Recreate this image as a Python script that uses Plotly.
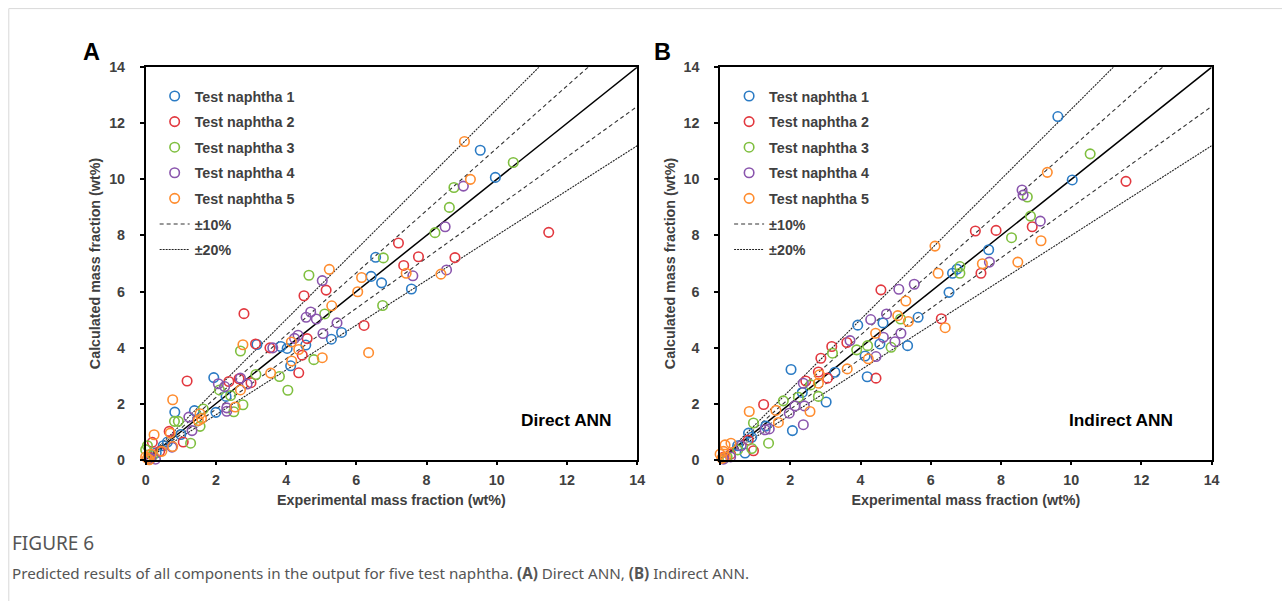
import plotly.graph_objects as go

W, H = 1282, 601
# mapping measured between page pixels and the photographed picture
SX, BX = 0.9916, 3.2
SY, BY = 0.9746, 7.7

series_names = ["Test naphtha 1", "Test naphtha 2", "Test naphtha 3", "Test naphtha 4", "Test naphtha 5"]
colors = ["#2b7bc4", "#e2383f", "#7fbf3f", "#8a55ad", "#ff8c2e"]
tick_vals = [0, 2, 4, 6, 8, 10, 12, 14]
axis_max = 14
band10 = [1 / 0.9, 0.9]
band20 = [1 / 0.8, 0.8]
panel_labels = ["A", "B"]
panel_names = ["Direct ANN", "Indirect ANN"]
x_title = "Experimental mass fraction (wt%)"
y_title = "Calculated mass fraction (wt%)"

# ---------------- Panel A : Direct ANN ----------------
a1_exp = [9.53, 9.96, 6.55, 6.42, 6.72, 7.57, 5.29, 5.58, 3.17, 3.85, 4.03, 4.56, 4.13, 1.94, 2.29, 2.00, 0.83, 1.39, 0.62, 0.30, 0.10, 0.50, 1.00]
a1_cal = [11.04, 10.07, 7.22, 6.54, 6.31, 6.09, 4.30, 4.54, 4.11, 4.04, 3.97, 4.09, 3.35, 2.93, 2.26, 1.69, 1.70, 1.75, 0.63, 0.25, 0.05, 0.50, 0.90]
a2_exp = [11.48, 7.20, 7.77, 7.35, 8.81, 6.22, 4.51, 5.14, 2.80, 3.13, 3.54, 4.60, 4.46, 4.36, 3.00, 2.66, 2.37, 1.18, 0.67, 1.07, 0.19, 0.10, 0.40]
a2_cal = [8.11, 7.73, 7.24, 6.93, 7.21, 4.79, 5.85, 6.05, 5.21, 4.13, 3.99, 4.32, 3.73, 3.10, 2.75, 2.89, 2.79, 2.81, 1.01, 0.63, 0.62, 0.10, 0.30]
a3_exp = [10.47, 8.78, 8.65, 8.24, 6.77, 6.75, 4.65, 5.10, 2.70, 4.79, 3.81, 4.05, 3.14, 2.10, 2.42, 2.77, 2.51, 0.93, 0.82, 1.64, 1.55, 1.28, 0.00, 0.05, 0.20]
a3_cal = [10.60, 9.71, 9.00, 8.10, 7.20, 5.50, 6.58, 5.20, 3.88, 3.57, 2.97, 2.48, 3.04, 2.49, 2.29, 1.96, 1.71, 1.37, 1.37, 1.81, 1.19, 0.59, 0.36, 0.50, 0.15]
a4_exp = [9.05, 8.53, 7.61, 8.57, 5.03, 4.70, 4.57, 4.86, 5.45, 5.05, 3.62, 4.24, 4.34, 2.89, 2.70, 2.07, 2.25, 2.31, 2.31, 1.23, 1.32, 0.75, 0.28, 0.15]
a4_cal = [9.76, 8.31, 6.56, 6.77, 6.39, 5.27, 5.08, 5.02, 4.88, 4.50, 3.99, 4.33, 4.44, 2.70, 2.91, 2.71, 2.61, 1.85, 1.73, 1.52, 1.04, 0.45, 0.02, 0.05]
a5_exp = [9.08, 9.25, 7.42, 8.41, 6.15, 6.04, 6.35, 5.23, 5.30, 2.77, 4.15, 4.36, 4.16, 5.03, 3.56, 2.70, 2.55, 0.77, 1.55, 1.59, 0.70, 0.24, 0.77, 0.46, 0.05, 0.00, 0.10, 0.15, 1.50]
a5_cal = [11.35, 10.00, 6.65, 6.62, 6.50, 5.99, 3.82, 6.79, 5.49, 4.10, 4.20, 3.93, 3.52, 3.64, 3.09, 2.49, 1.88, 2.14, 1.64, 1.47, 0.95, 0.89, 0.47, 0.30, 0.05, 0.10, 0.00, 0.20, 1.40]

# ---------------- Panel B : Indirect ANN ----------------
b1_exp = [9.62, 10.03, 7.65, 6.62, 6.75, 6.52, 5.64, 4.64, 3.92, 4.55, 5.34, 4.13, 3.27, 4.19, 2.02, 2.34, 3.02, 2.06, 0.81, 0.71, 0.50, 0.10, 1.30, 0.90]
b1_cal = [12.24, 9.98, 7.49, 6.65, 6.80, 5.97, 5.08, 4.88, 4.80, 4.13, 4.07, 3.70, 3.12, 2.96, 3.22, 2.40, 2.06, 1.04, 0.95, 0.24, 0.50, 0.05, 1.20, 0.80]
b2_exp = [11.56, 8.89, 7.27, 7.86, 7.43, 6.30, 4.58, 3.61, 3.18, 2.87, 2.80, 3.06, 4.44, 2.44, 1.24, 0.95, 0.30, 0.10, 0.80]
b2_cal = [9.93, 8.31, 8.16, 8.18, 6.65, 5.03, 6.06, 4.18, 4.04, 3.62, 3.13, 2.91, 2.91, 2.81, 1.97, 0.32, 0.20, 0.10, 0.70]
b3_exp = [10.54, 8.75, 8.84, 8.30, 6.83, 6.83, 5.14, 4.87, 4.20, 3.89, 3.20, 2.58, 2.80, 2.23, 1.80, 0.95, 1.38, 0.90, 0.20, 0.50]
b3_cal = [10.91, 9.37, 8.69, 7.92, 6.89, 6.65, 5.02, 4.01, 4.07, 3.92, 3.80, 2.67, 2.26, 2.23, 2.10, 1.31, 0.59, 0.40, 0.10, 0.35]
b4_exp = [8.60, 8.63, 9.12, 7.67, 5.09, 5.53, 4.74, 4.29, 3.70, 4.65, 4.98, 5.15, 4.44, 2.37, 2.40, 2.13, 1.97, 1.28, 1.40, 2.37, 0.30, 0.60, 0.10]
b4_cal = [9.62, 9.44, 8.51, 7.05, 6.08, 6.26, 5.20, 5.00, 4.25, 4.37, 4.21, 4.51, 3.68, 2.73, 1.92, 1.92, 1.66, 1.07, 1.10, 1.25, 0.10, 0.50, 0.02]
b5_exp = [9.32, 9.14, 6.12, 7.47, 8.48, 6.21, 6.41, 5.29, 5.06, 5.36, 4.43, 4.22, 3.62, 2.83, 2.80, 0.83, 1.59, 2.56, 1.66, 0.14, 0.31, 0.05, 0.00, 0.15, 0.10]
b5_cal = [10.25, 7.81, 7.62, 6.99, 7.05, 6.65, 4.71, 5.66, 5.14, 4.93, 4.51, 3.60, 3.24, 3.03, 2.73, 1.72, 1.76, 1.72, 1.33, 0.53, 0.59, 0.05, 0.20, 0.10, 0.30]

panel_data = [
    [(a1_exp, a1_cal), (a2_exp, a2_cal), (a3_exp, a3_cal), (a4_exp, a4_cal), (a5_exp, a5_cal)],
    [(b1_exp, b1_cal), (b2_exp, b2_cal), (b3_exp, b3_cal), (b4_exp, b4_cal), (b5_exp, b5_cal)],
]


# helpers: target picture pixel -> paper fraction
def px(x):
    return ((x - BX) / SX) / W


def py(y):
    return 1 - ((y - BY) / SY) / H


FONT = "Liberation Sans, Arial, sans-serif"
TXT = "#404040"

x_doms = [(145, 637), (720, 1212)]
y_dom = (67, 460)
legend_left = [154, 729]

fig = go.Figure()


def band_xy(ratios):
    up, lo = ratios
    return [axis_max / up, 0, axis_max], [axis_max, 0, axis_max * lo]


for p in range(2):
    xa = "x" if p == 0 else "x2"
    ya = "y" if p == 0 else "y2"
    lg = "legend" if p == 0 else "legend2"
    fig.add_trace(go.Scatter(x=[0, axis_max], y=[0, axis_max], mode="lines",
                             line=dict(color="black", width=1.5), showlegend=False,
                             xaxis=xa, yaxis=ya, hoverinfo="skip"))
    bx, by = band_xy(band10)
    fig.add_trace(go.Scatter(x=bx, y=by, mode="lines", name="±10%",
                             line=dict(color="#333333", width=1.1, dash="4px,3px"),
                             xaxis=xa, yaxis=ya, legend=lg, legendrank=6,
                             legendgroup=f"g10{p}", hoverinfo="skip"))
    bx, by = band_xy(band20)
    fig.add_trace(go.Scatter(x=bx, y=by, mode="lines", name="±20%",
                             line=dict(color="#222222", width=1.1, dash="2px,1px"),
                             xaxis=xa, yaxis=ya, legend=lg, legendrank=7,
                             legendgroup=f"g20{p}", hoverinfo="skip"))
    for i, (xe, yc) in enumerate(panel_data[p]):
        fig.add_trace(go.Scatter(
            x=xe, y=yc, mode="markers", name=series_names[i],
            marker=dict(symbol="circle-open", size=9.5, color=colors[i], line=dict(width=1.6, color=colors[i])),
            xaxis=xa, yaxis=ya, legend=lg, legendrank=i + 1, legendgroup=f"s{i}{p}",
            cliponaxis=False))

axis_common = dict(range=[0, axis_max], tickvals=tick_vals, showline=True, mirror=True,
                   linecolor="black", linewidth=1.5, ticks="outside", ticklen=4, tickwidth=1.5,
                   tickcolor="black", showgrid=False, zeroline=False,
                   tickfont=dict(family=FONT, size=14.3, color=TXT, weight="bold"))

layout = dict(width=W, height=H, margin=dict(l=0, r=0, t=0, b=0),
              paper_bgcolor="white", plot_bgcolor="white", showlegend=True)

for p in range(2):
    sx = "" if p == 0 else "2"
    layout["xaxis" + sx] = dict(axis_common, domain=[px(x_doms[p][0]), px(x_doms[p][1])],
                                anchor="y" + sx, ticklabelstandoff=2,
                                title=dict(text=x_title, standoff=8,
                                           font=dict(family=FONT, size=14.3, color=TXT, weight="bold")))
    layout["yaxis" + sx] = dict(axis_common, domain=[py(y_dom[1]), py(y_dom[0])],
                                anchor="x" + sx, ticklabelstandoff=12,
                                title=dict(text=y_title, standoff=5,
                                           font=dict(family=FONT, size=14.3, color=TXT, weight="bold")))
    layout["legend" if p == 0 else "legend2"] = dict(
        x=px(legend_left[p]), y=py(80), xanchor="left", yanchor="top",
        bgcolor="rgba(0,0,0,0)", borderwidth=0, tracegroupgap=4.0,
        font=dict(family=FONT, size=14.3, color=TXT, weight="bold"), itemwidth=30)

fig.update_layout(**layout)

annotations = []
for p in range(2):
    annotations.append(dict(text=panel_labels[p], xref="paper", yref="paper",
                            x=px([91, 662][p]), y=py(52), xanchor="center", yanchor="middle",
                            showarrow=False, font=dict(family=FONT, size=23.5, color="black", weight="bold")))
    annotations.append(dict(text=panel_names[p], xref="paper", yref="paper",
                            x=px([614, 1175][p]), y=py(420), xanchor="right", yanchor="middle",
                            showarrow=False, font=dict(family=FONT, size=17.3, color="black", weight="bold")))

annotations.append(dict(text="FIGURE 6", xref="paper", yref="paper", x=px(9), y=py(543),
                        xanchor="left", yanchor="middle", showarrow=False,
                        font=dict(family="Noto Sans", size=19, color="#555555")))
annotations.append(dict(text="Predicted results of all components in the output for five test naphtha. <b>(A)</b> Direct ANN, <b>(B)</b> Indirect ANN.",
                        xref="paper", yref="paper", x=px(9), y=py(573),
                        xanchor="left", yanchor="middle", showarrow=False,
                        font=dict(family="Noto Sans", size=15.2, color="#555555")))
fig.update_layout(annotations=annotations)

# card border (left and top edges)
fig.add_shape(type="rect", xref="paper", yref="paper", x0=px(8), y0=-0.2, x1=1.2, y1=py(8.3),
              line=dict(color="#d9d9d9", width=1), fillcolor="rgba(0,0,0,0)", layer="below")

fig.write_html("out.html", config={"displayModeBar": False},
               post_script="document.body.style.margin='0';document.body.style.overflow='hidden';")
